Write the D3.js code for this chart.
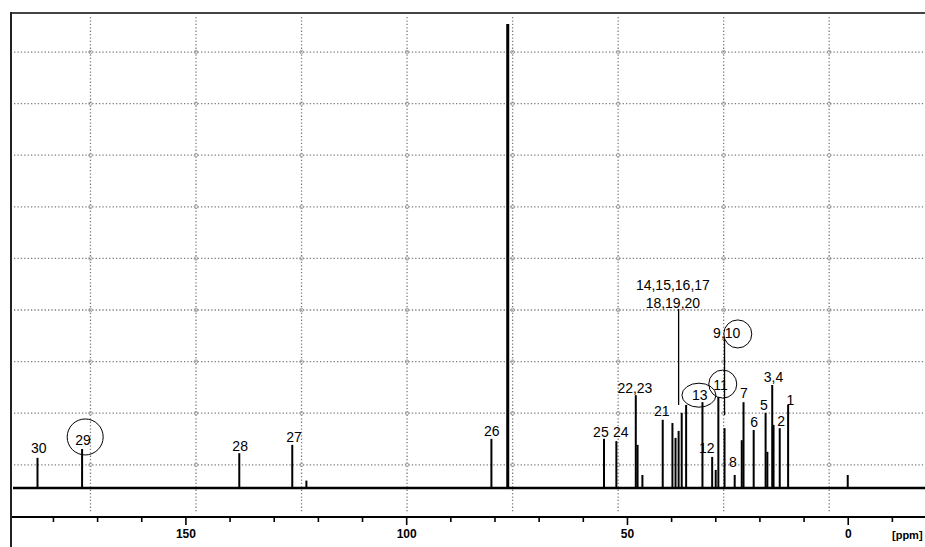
<!DOCTYPE html>
<html>
<head>
<meta charset="utf-8">
<script src="https://cdn.jsdelivr.net/npm/d3@7"></script>
<style>
  body { margin: 0; background: #fff; }
  svg { display: block; font-family: "Liberation Sans", Arial, sans-serif; }
</style>
</head>
<body>
<div id="spectrum"></div>
<script>
// peak positions (ppm) and heights (CDCl3 solvent peak = 100)
var peakPpm = [183.5, 173.4, 137.8, 125.8, 122.6, 80.7, 77.0, 55.2, 52.4, 48.0, 47.6, 46.5, 41.9,
    39.7, 39.0, 38.3, 37.6, 36.6, 32.9, 30.7, 29.9, 29.3, 27.9, 25.6, 24.0, 23.6, 21.3,
    18.6, 18.2, 17.1, 16.8, 15.4, 13.5, 0.0]
var peakHeight = [6.5, 8.4, 7.5, 9.3, 1.6, 10.6, 100, 10.6, 10.1, 20.0, 9.3, 2.8, 14.7,
    14.0, 10.8, 12.3, 16.2, 17.9, 18.5, 6.7, 3.9, 19.6, 12.9, 2.8, 10.3, 18.5, 12.5,
    16.2, 7.8, 22.2, 13.6, 12.9, 17.9, 2.8]

// carbon labels: text, ppm, height of text baseline
var labelText = ["30", "29", "28", "27", "26", "25", "24", "22,23", "21", "14,15,16,17", "18,19,20",
    "13", "11", "9,10", "12", "8", "7", "6", "5", "3,4", "2", "1"]
var labelPpm = [183.2, 173.2, 137.6, 125.4, 80.6, 55.9, 51.4, 48.2, 42.1, 39.6, 39.6,
    33.5, 28.8, 27.4, 31.9, 26.0, 23.5, 21.2, 19.0, 16.8, 15.1, 13.0]
var labelHeight = [7.5, 9.3, 8.0, 9.9, 11.2, 11.0, 11.0, 20.5, 15.5, 42.7, 38.8,
    19.0, 21.1, 32.3, 7.5, 4.5, 19.4, 13.1, 16.8, 22.8, 13.4, 17.9]

// circled labels: ppm, height of centre, radii in px
var circlePpm = [172.7, 33.7, 28.3, 24.9]
var circleHeight = [11.0, 20.0, 22.4, 33.2]
var circleRx = [18, 17, 14, 14]
var circleRy = [18, 12, 14, 14]

// leader lines from label to peak
var leaderPpm = [38.3, 27.9]
var leaderFrom = [17.9, 15.7]
var leaderTo = [38.6, 32.1]

var tickValues = d3.range(-10, 190, 10)

var width = 925, height = 547

var svg = d3.select("#spectrum")
    .append("svg")
    .attr("width", width)
    .attr("height", height)

var x = d3.scaleLinear().domain([189.5, -17.5]).range([11, 925])
var y = d3.scaleLinear().domain([0, 100]).range([488, 24])

var frameTop = 13, axisY = 517

// dotted grid
var gridX = d3.range(8).map(i => 171.5 - i * 23.9)
var gridY = d3.range(9).map(i => 5.0 + i * 11.12)

var grid = svg.append("g")
    .attr("stroke", "#7d7d7d")
    .attr("stroke-width", 1.3)
    .attr("stroke-dasharray", "1.3,2.1")

grid.selectAll(".gv")
    .data(gridX)
    .enter()
    .append("line")
    .attr("x1", d => x(d)).attr("x2", d => x(d))
    .attr("y1", frameTop + 4).attr("y2", axisY - 4)

grid.selectAll(".gh")
    .data(gridY)
    .enter()
    .append("line")
    .attr("x1", 14).attr("x2", width)
    .attr("y1", d => y(d)).attr("y2", d => y(d))

// little rings where grid lines cross
var crossings = []
gridX.forEach(gx => gridY.forEach(gy => crossings.push([gx, gy])))
svg.append("g").selectAll("circle")
    .data(crossings)
    .enter()
    .append("circle")
    .attr("cx", d => x(d[0]))
    .attr("cy", d => y(d[1]))
    .attr("r", 1.8)
    .attr("fill", "none")
    .attr("stroke", "#999")
    .attr("stroke-width", 0.8)

// frame
svg.append("line")
    .attr("x1", 10).attr("x2", width)
    .attr("y1", frameTop).attr("y2", frameTop)
    .attr("stroke", "#444").attr("stroke-width", 2)
svg.append("line")
    .attr("x1", 11).attr("x2", 11)
    .attr("y1", frameTop - 1).attr("y2", height)
    .attr("stroke", "#222").attr("stroke-width", 2)

// spectrum baseline and peaks
svg.append("line")
    .attr("x1", 13).attr("x2", width)
    .attr("y1", y(0)).attr("y2", y(0))
    .attr("stroke", "#000").attr("stroke-width", 2.6)

var peaks = peakPpm.map((p, i) => ({ ppm: p, h: peakHeight[i] }))
svg.append("g").selectAll("line")
    .data(peaks)
    .enter()
    .append("line")
    .attr("x1", d => x(d.ppm)).attr("x2", d => x(d.ppm))
    .attr("y1", y(0)).attr("y2", d => y(d.h))
    .attr("stroke", "#000")
    .attr("stroke-width", d => d.h > 50 ? 3 : 2)

// leader lines
svg.append("g").selectAll("line")
    .data(leaderPpm)
    .enter()
    .append("line")
    .attr("x1", d => x(d)).attr("x2", d => x(d))
    .attr("y1", (d, i) => y(leaderFrom[i])).attr("y2", (d, i) => y(leaderTo[i]))
    .attr("stroke", "#000").attr("stroke-width", 1.3)

// labels
svg.append("g").selectAll("text")
    .data(labelText)
    .enter()
    .append("text")
    .attr("x", (d, i) => x(labelPpm[i]))
    .attr("y", (d, i) => y(labelHeight[i]))
    .attr("text-anchor", "middle")
    .attr("font-size", 14)
    .attr("fill", "#000")
    .text(d => d)

svg.append("g").selectAll("ellipse")
    .data(circlePpm)
    .enter()
    .append("ellipse")
    .attr("cx", d => x(d))
    .attr("cy", (d, i) => y(circleHeight[i]))
    .attr("rx", (d, i) => circleRx[i])
    .attr("ry", (d, i) => circleRy[i])
    .attr("fill", "none")
    .attr("stroke", "#000")
    .attr("stroke-width", 1)

// ppm axis
var axis = svg.append("g")
    .attr("transform", "translate(0," + axisY + ")")
    .call(d3.axisBottom(x)
        .tickValues(tickValues)
        .tickSize(5)
        .tickSizeOuter(0)
        .tickFormat(d => d % 50 === 0 ? d : ""))

axis.select(".domain").remove()
axis.selectAll(".tick line")
    .attr("stroke-width", 1.6)
    .attr("y2", d => d % 50 === 0 ? 8 : 5)
axis.selectAll(".tick text")
    .attr("font-family", "Liberation Sans, Arial, sans-serif")
    .attr("font-size", 12)
    .attr("font-weight", "bold")
    .attr("dy", "1.1em")

svg.append("line")
    .attr("x1", 12).attr("x2", width)
    .attr("y1", axisY).attr("y2", axisY)
    .attr("stroke", "#000").attr("stroke-width", 2.2)

svg.append("text")
    .attr("x", 892)
    .attr("y", axisY + 22)
    .attr("font-size", 11)
    .attr("font-weight", "bold")
    .text("[ppm]")
</script>
</body>
</html>
